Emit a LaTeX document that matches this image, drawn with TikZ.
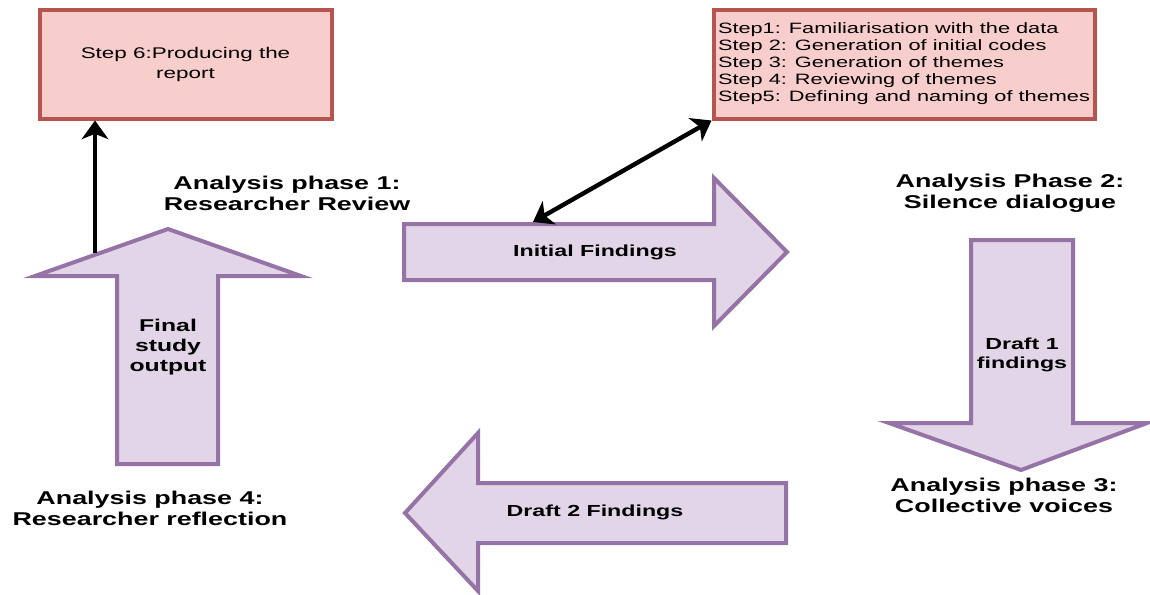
\documentclass[tikz,border=0pt]{standalone}
\usepackage{fontspec}
\setmainfont{Liberation Sans}[FakeStretch=1.45]
\usetikzlibrary{arrows.meta}

\definecolor{arrowline}{HTML}{9673A6}
\definecolor{arrowfill}{HTML}{E1D5E7}
\definecolor{boxline}{HTML}{B85450}
\definecolor{boxfill}{HTML}{F8CECC}

\tikzset{
  bigarrow/.style={draw=arrowline, fill=arrowfill, line width=3pt, line join=miter},
  stepbox/.style={draw=boxline, fill=boxfill, line width=3pt, inner sep=0pt, align=center},
  phaselabel/.style={font=\fontsize{13.9pt}{15.75pt}\selectfont\bfseries, align=center, inner sep=0pt},
  arrowlabel/.style={font=\fontsize{12pt}{14.5pt}\selectfont\bfseries, align=center, inner sep=0pt},
  link/.style={line width=3.3pt, draw=black},
  linkhead/.style={-{Stealth[length=14pt,width=20pt,inset=4pt]}},
}

\begin{document}
\begin{tikzpicture}[x=0.75pt, y=-0.75pt]
  \useasboundingbox (0,0) rectangle (1150,594);

  % step boxes
  \node[stepbox, minimum width=292*0.75pt, minimum height=109*0.75pt,
        font=\fontsize{11.6pt}{15pt}\selectfont] (report) at (185.5,64)
        {Step 6:Producing the\\report};
  \node[stepbox, minimum width=381*0.75pt, minimum height=109*0.75pt,
        align=left, font=\fontsize{11.25pt}{12.75pt}\selectfont] (steps) at (904,64)
        {Step1: Familiarisation with the data\\
         Step 2: Generation of initial codes\\
         Step 3: Generation of themes\\
         Step 4: Reviewing of themes\\
         Step5: Defining and naming of themes};

  % block arrows of the four analysis phases
  \draw[bigarrow] (168,229) -- (301,276) -- (218,276) -- (218,464)
        -- (117,464) -- (117,276) -- (35,276) -- cycle;
  \draw[bigarrow] (404,224) -- (714,224) -- (714,178) -- (787,252)
        -- (714,326) -- (714,280) -- (404,280) -- cycle;
  \draw[bigarrow] (971,240) -- (1073,240) -- (1073,423) -- (1147,423)
        -- (1021,470) -- (889,423) -- (971,423) -- cycle;
  \draw[bigarrow] (405,513) -- (478,433) -- (478,483) -- (786,483)
        -- (786,543) -- (478,543) -- (478,591) -- cycle;

  % labels on the block arrows
  \node[arrowlabel] (initial) at (595,252) {Initial Findings};
  \node[arrowlabel, font=\fontsize{12.8pt}{15pt}\selectfont\bfseries] (final) at (168,347) {Final\\study\\output};
  \node[arrowlabel] (draft1) at (1022,355) {Draft 1\\findings};
  \node[arrowlabel] (draft2) at (595,512) {Draft 2 Findings};

  % phase titles
  \node[phaselabel] (phase1) at (287,193) {Analysis phase 1:\\Researcher Review};
  \node[phaselabel] (phase2) at (1010,193) {Analysis Phase 2:\\Silence dialogue};
  \node[phaselabel] (phase3) at (1004,495) {Analysis phase 3:\\Collective voices};
  \node[phaselabel] (phase4) at (150,508) {Analysis phase 4:\\Researcher reflection};

  % connectors to the step boxes
  \coordinate (upstart) at (95,253);
  \coordinate (findtop) at (533,222);
  \draw[link, linkhead] (upstart) -- (report.south -| upstart);
  \draw[link, {Stealth[length=14pt,width=20pt,inset=4pt]}-{Stealth[length=14pt,width=20pt,inset=4pt]}]
        (findtop) -- (steps.south west);
\end{tikzpicture}
\end{document}
